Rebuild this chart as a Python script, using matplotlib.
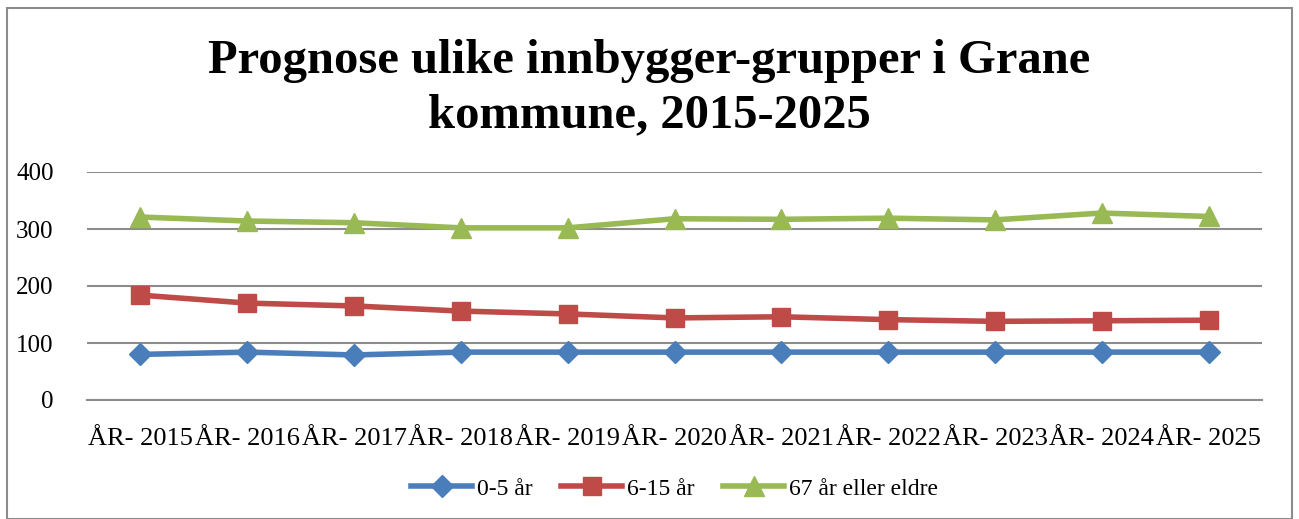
import matplotlib.pyplot as plt
from matplotlib.patches import Rectangle

years = ["2015", "2016", "2017", "2018", "2019", "2020", "2021", "2022", "2023", "2024", "2025"]
labels = ["ÅR- " + y for y in years]
age_0_5 = [80, 84, 79, 84, 84, 84, 84, 84, 84, 84, 84]
age_6_15 = [184, 170, 165, 156, 151, 144, 146, 141, 138, 139, 140]
age_67 = [321, 314, 311, 302, 302, 318, 317, 319, 316, 328, 322]

plt.rcParams["font.family"] = ["Liberation Serif", "DejaVu Serif"]

fig = plt.figure(figsize=(12.99, 5.19), dpi=100)
ax = fig.add_axes([87 / 1299, 1 - 400 / 519, 1175 / 1299, 228 / 519])

x = range(len(years))
ax.plot(x, age_0_5, color="#4a7ebb", lw=4, marker="D", ms=11, label="0-5 år")
ax.plot(x, age_6_15, color="#be4b48", lw=4, marker="s", ms=13, label="6-15 år")
ax.plot(x, age_67, color="#98b954", lw=4, marker="^", ms=15, label="67 år eller eldre")

ax.set_xlim(-0.5, 10.5)
ax.set_ylim(0, 400)
ax.set_yticks([0, 100, 200, 300, 400])
ax.yaxis.grid(True, color="#8c8c8c", lw=1.5)
ax.set_axisbelow(True)
for s in ["top", "right", "left"]:
    ax.spines[s].set_visible(False)
ax.spines["bottom"].set_color("#8c8c8c")
ax.spines["bottom"].set_linewidth(1.5)
ax.set_xticks(list(x))
ax.set_xticklabels(labels, fontsize=19)
ax.tick_params(axis="x", length=0, pad=20)
ax.tick_params(axis="y", length=0, labelsize=18, pad=24)

fig.suptitle("Prognose ulike innbygger-grupper i Grane\nkommune, 2015-2025",
             fontsize=35, fontweight="bold", y=0.925, linespacing=1.3)

ax.legend(loc="center", bbox_to_anchor=(0.5, -0.39), ncol=3, frameon=False,
          fontsize=17, handlelength=2.6, columnspacing=1.2, handletextpad=0.2)

fig.patches.append(Rectangle((7 / 1299, 0), 1285 / 1299, 511 / 519, transform=fig.transFigure,
                             fill=False, edgecolor="#8c8c8c", lw=1.5))

fig.savefig("out.png", dpi=100)
